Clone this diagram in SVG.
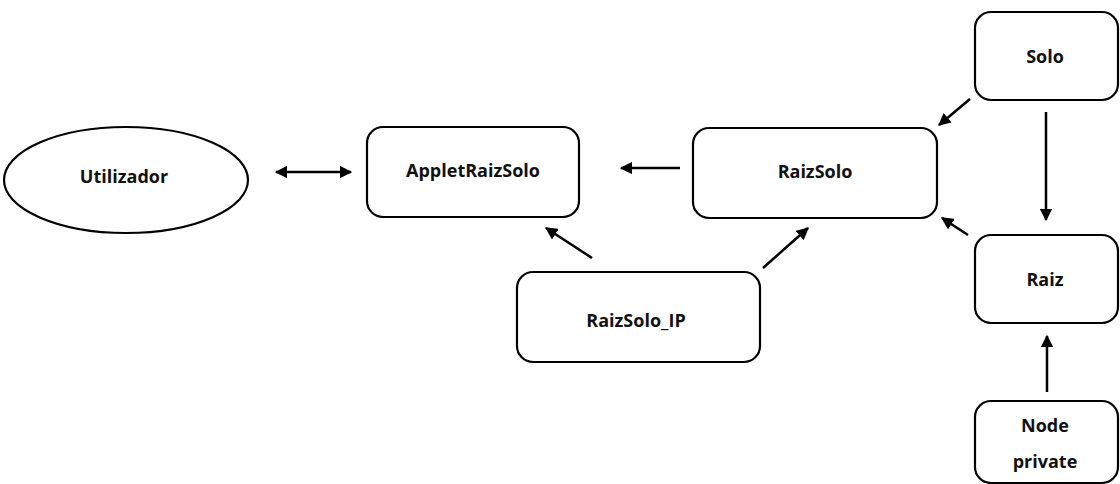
<svg xmlns="http://www.w3.org/2000/svg" width="1120" height="484" viewBox="0 0 1120 484">
  <style>
    .box { fill: #fff; stroke: #000; stroke-width: 2.2; }
    .lbl { font-family: "Open Sans", "Liberation Sans", sans-serif; font-weight: 700; font-size: 18px; fill: #111; text-anchor: middle; }
    .edge { stroke: #000; stroke-width: 2.5; fill: none; }
  </style>
  <defs>
    <marker id="head" viewBox="0 0 10 10" refX="9" refY="5" markerWidth="5" markerHeight="5" markerUnits="strokeWidth" orient="auto-start-reverse">
      <path d="M0,0 L10,5 L0,10 Z" fill="#000"/>
    </marker>
  </defs>
  <rect width="1120" height="484" fill="#fff"/>

  <g id="utilizador">
    <ellipse class="box" cx="126" cy="180" rx="122" ry="53"/>
    <text class="lbl" x="124" y="183">Utilizador</text>
  </g>
  <g id="appletraizsolo">
    <rect class="box" x="367" y="127" width="212" height="90" rx="16"/>
    <text class="lbl" x="473" y="177">AppletRaizSolo</text>
  </g>
  <g id="raizsolo">
    <rect class="box" x="693" y="128" width="244" height="90" rx="16"/>
    <text class="lbl" x="815" y="178">RaizSolo</text>
  </g>
  <g id="solo">
    <rect class="box" x="975" y="12" width="143" height="88" rx="16"/>
    <text class="lbl" x="1045" y="63">Solo</text>
  </g>
  <g id="raiz">
    <rect class="box" x="975" y="235" width="143" height="88" rx="16"/>
    <text class="lbl" x="1045" y="286">Raiz</text>
  </g>
  <g id="raizsolo_ip">
    <rect class="box" x="517" y="272" width="243" height="90" rx="16"/>
    <text class="lbl" x="636" y="327">RaizSolo_IP</text>
  </g>
  <g id="node_private">
    <rect class="box" x="975" y="401" width="143" height="82" rx="16"/>
    <text class="lbl" x="1045" y="432">Node</text>
    <text class="lbl" x="1045" y="468">private</text>
  </g>

  <g id="connectors">
    <line class="edge" x1="276" y1="172" x2="351" y2="172" marker-start="url(#head)" marker-end="url(#head)"/>
    <line class="edge" x1="680" y1="168" x2="621" y2="168" marker-end="url(#head)"/>
    <line class="edge" x1="592" y1="258" x2="546" y2="228" marker-end="url(#head)"/>
    <line class="edge" x1="763" y1="268" x2="808" y2="228" marker-end="url(#head)"/>
    <line class="edge" x1="970" y1="99" x2="939" y2="125" marker-end="url(#head)"/>
    <line class="edge" x1="1046" y1="112" x2="1046" y2="220" marker-end="url(#head)"/>
    <line class="edge" x1="968" y1="235" x2="942" y2="218" marker-end="url(#head)"/>
    <line class="edge" x1="1047" y1="392" x2="1047" y2="336" marker-end="url(#head)"/>
  </g>
</svg>
